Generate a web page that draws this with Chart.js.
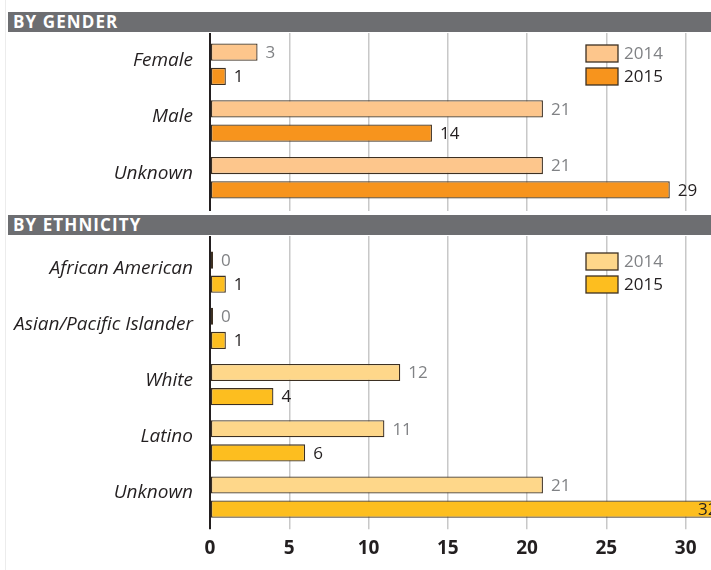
<!DOCTYPE html>
<html>
<head>
<meta charset="utf-8">
<script src="https://cdn.jsdelivr.net/npm/chart.js@4/dist/chart.umd.min.js"></script>
<style>
  body { margin: 0; background: #fff; width: 711px; height: 570px; position: relative; overflow: hidden; font-family: "Open Sans", sans-serif; }
  .edge { position: absolute; left: 5px; top: 0; width: 1px; height: 570px; background: #ececec; }
  .band { position: absolute; left: 8px; width: 703px; height: 20px; background: #6d6e71; color: #fff;
          font-weight: bold; font-size: 17px; line-height: 20px; padding-left: 5px; box-sizing: border-box; letter-spacing: 1.1px; }
  canvas { position: absolute; left: 0; }
</style>
</head>
<body>
<div class="edge"></div>
<div class="band" style="top:12px">BY GENDER</div>
<div class="band" style="top:215px">BY ETHNICITY</div>
<canvas id="chart-gender" style="top:33px"></canvas>
<canvas id="chart-ethnicity" style="top:236px"></canvas>
<script>
// Dữ liệu
const yearLabels = ['2014', '2015'];
const genderCategories = ['Female', 'Male', 'Unknown'];
const gender2014 = [3, 21, 21];
const gender2015 = [1, 14, 29];
const ethnicityCategories = ['African American', 'Asian/Pacific Islander', 'White', 'Latino', 'Unknown'];
const ethnicity2014 = [0, 0, 12, 11, 21];
const ethnicity2015 = [1, 1, 4, 6, 32];
const xTicks = [0, 5, 10, 15, 20, 25, 30];

const AXIS_MAX = 31.6;
const DARK = '#231f20';
const GRID = '#c8c8c8';

// nhãn số ở cuối mỗi cột
const barValueLabels = {
    id: 'barValueLabels',
    afterDatasetsDraw(chart) {
        const { ctx, chartArea } = chart;
        ctx.save();
        ctx.font = '17px "Open Sans"';
        ctx.textBaseline = 'middle';
        chart.data.datasets.forEach((ds, i) => {
            const meta = chart.getDatasetMeta(i);
            ctx.fillStyle = i === 0 ? '#808285' : DARK;
            meta.data.forEach((bar, j) => {
                const x = Math.min(bar.x + 8, chartArea.right - 13);
                ctx.fillText(String(ds.data[j]), x, bar.y + 1);
            });
        });
        ctx.restore();
    }
};

// chú thích góc trên bên phải
const cornerLegend = {
    id: 'cornerLegend',
    afterDraw(chart) {
        const { ctx, chartArea } = chart;
        const left = chartArea.right - 125;
        let top = chartArea.top + 9;
        ctx.save();
        ctx.font = '17px "Open Sans"';
        ctx.textBaseline = 'middle';
        chart.data.datasets.forEach((ds, i) => {
            ctx.fillStyle = ds.backgroundColor;
            ctx.fillRect(left, top, 32, 17);
            ctx.strokeStyle = ds.borderColor;
            ctx.lineWidth = 1.3;
            ctx.strokeRect(left, top, 32, 17);
            ctx.fillStyle = i === 0 ? '#808285' : DARK;
            ctx.fillText(ds.label, left + 38, top + 9);
            top += 23;
        });
        ctx.restore();
    }
};

function makeChart(id, height, categories, v2014, v2015, colors, opts) {
    const canvas = document.getElementById(id);
    canvas.width = 711;
    canvas.height = height;
    const barOpts = {
        borderColor: '#3d3022',
        borderWidth: 1.3,
        borderSkipped: false,
        minBarLength: 3,
        categoryPercentage: 0.857,
        barPercentage: 0.71
    };
    return new Chart(canvas, {
        type: 'bar',
        data: {
            labels: categories,
            datasets: [
                { label: yearLabels[0], data: v2014, backgroundColor: colors[0], ...barOpts },
                { label: yearLabels[1], data: v2015, backgroundColor: colors[1], ...barOpts }
            ]
        },
        options: {
            indexAxis: 'y',
            responsive: false,
            animation: false,
            layout: { padding: { top: 0, right: 0, left: 0, bottom: opts.padBottom } },
            plugins: { legend: { display: false }, tooltip: { enabled: false } },
            scales: {
                x: {
                    min: 0,
                    max: AXIS_MAX,
                    afterBuildTicks: (scale) => { scale.ticks = xTicks.map(v => ({ value: v })); },
                    border: { display: false },
                    grid: {
                        color: (c) => (c.tick && c.tick.value === 0 ? DARK : GRID),
                        lineWidth: (c) => (c.tick && c.tick.value === 0 ? 2 : 1.5),
                        drawTicks: true,
                        tickLength: opts.tickBottom
                    },
                    ticks: {
                        display: opts.showTicks,
                        padding: 8,
                        color: DARK,
                        font: { family: 'Open Sans', size: 19, weight: 'bold' }
                    }
                },
                x2: {
                    position: 'top',
                    axis: 'x',
                    min: 0,
                    max: AXIS_MAX,
                    afterBuildTicks: (scale) => { scale.ticks = xTicks.map(v => ({ value: v })); },
                    border: { display: false },
                    grid: {
                        drawOnChartArea: false,
                        color: (c) => (c.tick && c.tick.value === 0 ? DARK : GRID),
                        lineWidth: (c) => (c.tick && c.tick.value === 0 ? 2 : 1.5),
                        tickLength: opts.tickTop
                    },
                    ticks: { display: false }
                },
                y: {
                    // cố định bề rộng trục và bỏ khoảng đệm trên/dưới của nhãn
                    afterFit: (scale) => {
                        scale.width = 210;
                        scale.paddingTop = 0;
                        scale.paddingBottom = 0;
                    },
                    grid: { display: false },
                    border: { display: true, color: DARK, width: 2 },
                    ticks: {
                        padding: 9,
                        labelOffset: -4,
                        color: DARK,
                        font: { family: 'Open Sans', size: 19, style: 'italic' }
                    }
                }
            }
        },
        plugins: [barValueLabels, cornerLegend]
    });
}

document.fonts.load('17px "Open Sans"').then(() => Promise.all([
    document.fonts.load('italic 19px "Open Sans"'),
    document.fonts.load('bold 19px "Open Sans"')
])).finally(() => {
    makeChart('chart-gender', 179, genderCategories, gender2014, gender2015,
        ['#fdc68c', '#f7941d'], { showTicks: false, tickTop: 3, tickBottom: 5, padBottom: 1 });
    makeChart('chart-ethnicity', 334, ethnicityCategories, ethnicity2014, ethnicity2015,
        ['#fed78a', '#fdbe1f'], { showTicks: true, tickTop: 8, tickBottom: 4, padBottom: 2 });
});
</script>
</body>
</html>
